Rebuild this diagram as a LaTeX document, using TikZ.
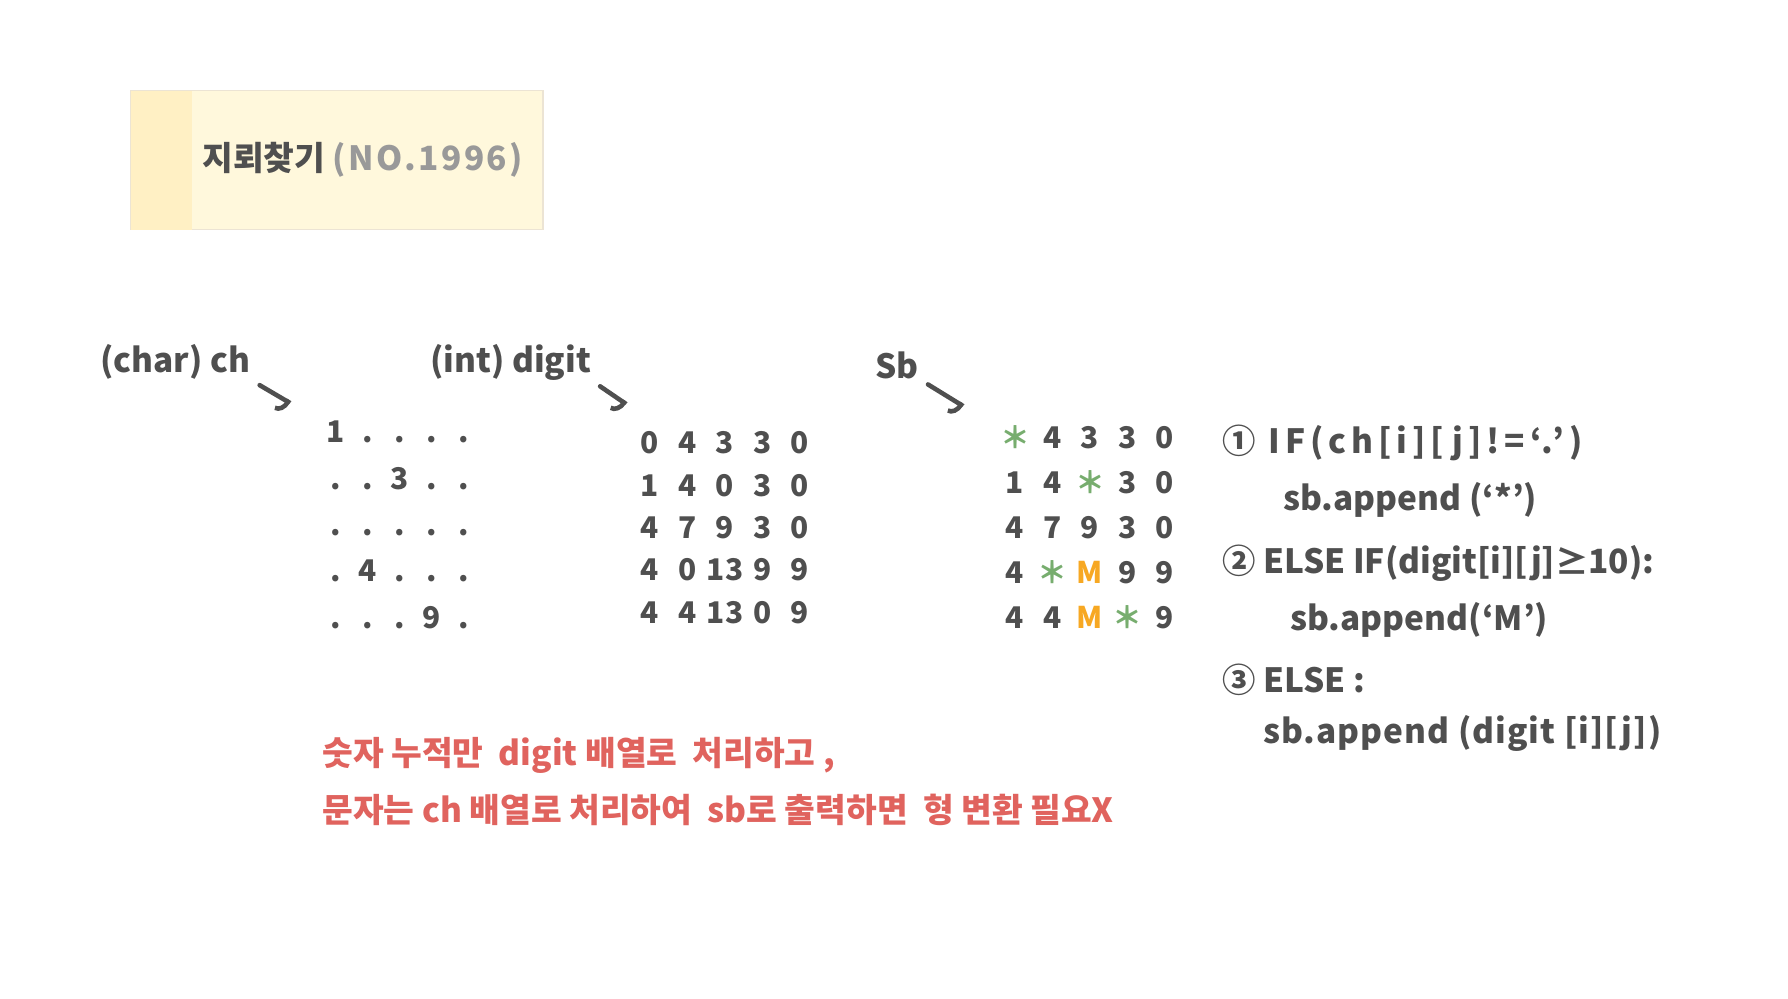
\documentclass[tikz,border=0pt]{standalone}
\usepackage{fontspec}
\setmainfont{Noto Sans CJK KR}
\usetikzlibrary{arrows.meta}
\definecolor{ink}{HTML}{4F4F4F}
\definecolor{grn}{HTML}{77AD6E}
\definecolor{org}{HTML}{F7A823}
\definecolor{memo}{HTML}{E0635E}
\definecolor{paper}{HTML}{FFF8DC}
\definecolor{tab}{HTML}{FFF0C4}
\definecolor{rim}{HTML}{ECE4D4}
\definecolor{nogray}{HTML}{999999}
\newcommand{\spread}[1]{\addfontfeature{LetterSpace=#1}}

\begin{document}
\begin{tikzpicture}[x=0.02cm, y=-0.02cm,
    cell/.style = {text=ink, anchor=base, inner sep=0pt, font=\bfseries\fontsize{17}{20}\selectfont},
    lab/.style = {text=ink, anchor=west, inner sep=0pt, font=\bfseries\fontsize{19}{22}\selectfont},
    code/.style = {text=ink, anchor=west, inner sep=0pt, font=\bfseries\fontsize{19}{22}\selectfont},
    note/.style = {text=memo, anchor=west, inner sep=0pt, font=\bfseries\fontsize{19}{23}\selectfont},
    pointer/.style = {draw=ink, line width=2.6pt, line cap=round, shorten <=6pt,
        -{Arc Barb[right, length=6pt, width=16pt]}}]
    \useasboundingbox[fill=white] (0,0) rectangle (1788,999);

    % title card
    \node[draw=rim, fill=paper, line width=0.8pt, minimum width=8.24cm, minimum height=2.78cm,
        inner sep=0pt] (card) at (337,160) {};
    \fill[tab] ([shift={(0.5pt,-0.5pt)}]card.north west) rectangle ([xshift=1.24cm]card.south west);
    \node[anchor=west, inner sep=0pt, text=ink, font=\bfseries\fontsize{19}{22}\selectfont] (title) at (202,160)
        {지뢰찾기 \textcolor{nogray}{\spread{7}(NO.1996)}};

    % labels
    \node[lab] (chlab) at (100,362) {(char) ch};
    \node[lab] (diglab) at (430,362) {(int) digit};
    \node[lab] (sblab) at (875,365) {Sb};
    \coordinate (chtip) at (290,403);
    \coordinate (digtip) at (626,404);
    \coordinate (sbtip) at (963,406);
    \draw[pointer] (chlab.south east) -- (chtip);
    \draw[pointer] (diglab.south east) -- (digtip);
    \draw[pointer] (sblab.south east) -- (sbtip);

    % ch array
    \foreach \row [count=\r] in {{1,.,.,.,.},{.,.,3,.,.},{.,.,.,.,.},{.,4,.,.,.},{.,.,.,9,.}}
        \foreach \v [count=\c] in \row
            \node[cell] (ch-\r-\c) at ({336+32*(\c-1)}, {443+46.25*(\r-1)}) {\v};

    % digit array
    \foreach \row [count=\r] in {{0,4,3,3,0},{1,4,0,3,0},{4,7,9,3,0},{4,0,13,9,9},{4,4,13,0,9}}
        \foreach \v [count=\c] in \row
            \node[cell] (dg-\r-\c) at ({650+37.5*(\c-1)}, {454+42.25*(\r-1)}) {\v};

    % sb result
    \foreach \row [count=\r] in {{＊/grn,4/ink,3/ink,3/ink,0/ink},{1/ink,4/ink,＊/grn,3/ink,0/ink},
            {4/ink,7/ink,9/ink,3/ink,0/ink},{4/ink,＊/grn,M/org,9/ink,9/ink},{4/ink,4/ink,M/org,＊/grn,9/ink}}
        \foreach \v/\col [count=\c] in \row
            \node[cell, text=\col] (sb-\r-\c) at ({1015+37.5*(\c-1)}, {449+44.75*(\r-1)}) {\v};

    % rules
    \node[code] (rule1) at (1222,443) {\spread{15}① IF(ch[i][j]!=‘.’)};
    \node[code] (put1) at (1283,500) {sb.append (‘*’)};
    \node[code] (rule2) at (1222,563) {② ELSE IF(digit[i][j]≥10):};
    \node[code] (put2) at (1290,620) {sb.append(‘M’)};
    \node[code] (rule3) at (1222,680) {③ ELSE :};
    \node[code] (put3) at (1263,733) {\spread{3}sb.append (digit [i][j])};

    % memo
    \node[note] (memo1) at (322,755) {숫자 누적만 \ digit 배열로 \ 처리하고 ,};
    \node[note] (memo2) at (322,810) {문자는 ch 배열로 처리하여 \ sb로 출력하면 \ 형 변환 필요X};
\end{tikzpicture}
\end{document}
